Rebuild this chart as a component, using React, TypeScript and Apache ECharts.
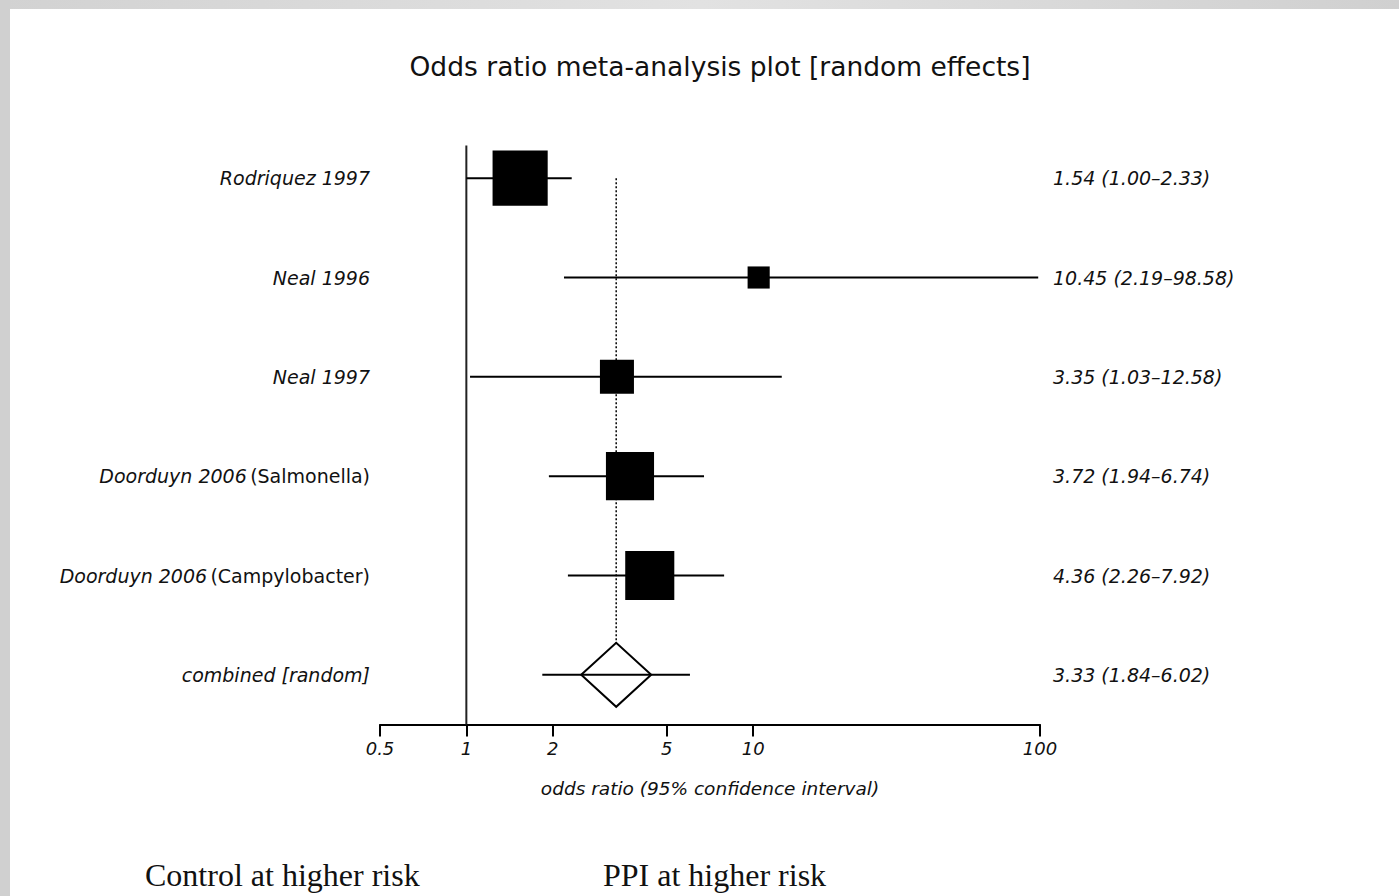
import { useEffect, useRef } from "react";
import * as echarts from "echarts";

// Forest plot data: odds ratios with 95% confidence intervals
const studyLabels = [
  "Rodriquez 1997",
  "Neal 1996",
  "Neal 1997",
  "Doorduyn 2006 (Salmonella)",
  "Doorduyn 2006 (Campylobacter)",
  "combined [random]",
];
const oddsRatio = [1.54, 10.45, 3.35, 3.72, 4.36, 3.33];
const ciLower = [1.0, 2.19, 1.03, 1.94, 2.26, 1.84];
const ciUpper = [2.33, 98.58, 12.58, 6.74, 7.92, 6.02];
// study weights (%); the pooled row is drawn as a diamond instead
const weightPct = [32.3, 5.2, 12.3, 24.6, 25.6, 0];
const pooledRow = 5;
const axisTickValues = [0.5, 1, 2, 5, 10, 100];
const nullEffect = 1;

const titleText = "Odds ratio meta-analysis plot [random effects]";
const axisTitle = "odds ratio (95% confidence interval)";
const leftNote = "Control at higher risk";
const rightNote = "PPI at higher risk";

const SANS = "DejaVu Sans";
const SERIF = "Liberation Serif";
const INK = "#111";

const fmt = (v: number) => v.toFixed(2);
const estimateLabels = oddsRatio.map(
  (v, i) => `${fmt(v)} (${fmt(ciLower[i])}–${fmt(ciUpper[i])})`
);

function studyLabelFormatter(name: string) {
  const k = name.indexOf(" (");
  if (k < 0) return `{it|${name}}`;
  return `{it|${name.slice(0, k)}} {up|${name.slice(k + 1)}}`;
}

export default function App() {
  const ref = useRef<HTMLDivElement>(null);

  useEffect(() => {
    if (!ref.current) return;
    const chart = echarts.init(ref.current, undefined, { renderer: "svg" });

    const rows = oddsRatio.map((v, i) => [v, i, ciLower[i], ciUpper[i], weightPct[i]]);

    const option: any = {
      animation: false,
      backgroundColor: "#ffffff",
      title: {
        text: titleText,
        left: 715,
        top: 48,
        textAlign: "center",
        textStyle: { fontFamily: SANS, fontSize: 26.5, fontWeight: "normal", color: INK },
      },
      grid: { left: 380, right: 359, top: 128.5, bottom: 171.5 },
      xAxis: {
        type: "log",
        logBase: 10,
        min: 0.5,
        max: 100,
        name: axisTitle,
        nameLocation: "middle",
        nameGap: 54,
        nameTextStyle: { fontFamily: SANS, fontStyle: "italic", fontSize: 18.5, color: INK },
        axisLine: { show: true, lineStyle: { color: "#000", width: 2 } },
        axisTick: {
          show: true,
          length: 12,
          lineStyle: { color: "#000", width: 2 },
          customValues: axisTickValues,
        },
        minorTick: { show: false },
        axisLabel: {
          customValues: axisTickValues,
          margin: 15,
          fontFamily: SANS,
          fontStyle: "italic",
          fontSize: 18,
          color: INK,
          formatter: (v: number) => String(v),
        },
        splitLine: { show: false },
      },
      yAxis: [
        {
          type: "category",
          data: studyLabels,
          inverse: true,
          axisLine: { show: false },
          axisTick: { show: false },
          splitLine: { show: false },
          axisLabel: {
            margin: 10,
            formatter: studyLabelFormatter,
            rich: {
              it: { fontFamily: SANS, fontStyle: "italic", fontSize: 19, color: INK },
              up: { fontFamily: SANS, fontSize: 19, color: INK },
            },
          },
        },
        {
          type: "category",
          data: estimateLabels,
          inverse: true,
          position: "right",
          axisLine: { show: false },
          axisTick: { show: false },
          splitLine: { show: false },
          axisLabel: {
            margin: 13,
            fontFamily: SANS,
            fontStyle: "italic",
            fontSize: 19,
            color: INK,
          },
        },
      ],
      series: [
        {
          // line of no effect (OR = 1)
          type: "custom",
          z: 1,
          data: [[nullEffect, 0]],
          encode: { x: 0, y: 1 },
          renderItem: (params: any, api: any) => {
            const [x, y0] = api.coord([api.value(0), 0]);
            const band = api.size([0, 1])[1];
            const bottom = params.coordSys.y + params.coordSys.height;
            return {
              type: "line",
              shape: { x1: x, y1: y0 - band * 0.33, x2: x, y2: bottom },
              style: { stroke: "#222", lineWidth: 2 },
            };
          },
        },
        {
          // pooled estimate reference
          type: "line",
          z: 1,
          symbol: "none",
          data: [
            [oddsRatio[pooledRow], 0],
            [oddsRatio[pooledRow], pooledRow],
          ],
          lineStyle: { color: "#000", width: 1.5, type: [2, 2] },
        },
        {
          type: "custom",
          z: 2,
          data: rows,
          encode: { x: 0, y: 1 },
          renderItem: (_params: any, api: any) => {
            const row = api.value(1);
            const [cx, cy] = api.coord([api.value(0), row]);
            const xl = api.coord([api.value(2), row])[0];
            const xh = api.coord([api.value(3), row])[0];
            const ci = {
              type: "line",
              shape: { x1: xl, y1: cy, x2: xh, y2: cy },
              style: { stroke: "#000", lineWidth: 2 },
            };
            if (row === pooledRow) {
              return {
                type: "group",
                children: [
                  {
                    type: "polygon",
                    shape: {
                      points: [
                        [cx - 35, cy],
                        [cx, cy - 32],
                        [cx + 35, cy],
                        [cx, cy + 32],
                      ],
                    },
                    style: { fill: "#fff", stroke: "#000", lineWidth: 2 },
                  },
                  ci,
                ],
              };
            }
            const s = Math.sqrt(api.value(4)) * 9.7;
            return {
              type: "group",
              children: [
                ci,
                {
                  type: "rect",
                  shape: { x: cx - s / 2, y: cy - s / 2, width: s, height: s },
                  style: { fill: "#000" },
                },
              ],
            };
          },
        },
      ],
      graphic: [
        {
          type: "rect",
          shape: { x: 0, y: 0, width: 1399, height: 9 },
          style: {
            fill: {
              type: "linear",
              x: 0,
              y: 0,
              x2: 1,
              y2: 0,
              colorStops: [
                { offset: 0, color: "#d2d2d2" },
                { offset: 0.5, color: "#e2e2e2" },
                { offset: 1, color: "#d0d0d0" },
              ],
            },
          },
          silent: true,
        },
        {
          type: "rect",
          shape: { x: 0, y: 0, width: 10, height: 896 },
          style: { fill: "#d0d0d0" },
          silent: true,
        },
        {
          type: "text",
          x: 145,
          y: 875,
          style: {
            text: leftNote,
            fontFamily: SERIF,
            fontSize: 32,
            fill: INK,
            verticalAlign: "middle",
          },
        },
        {
          type: "text",
          x: 603,
          y: 875,
          style: {
            text: rightNote,
            fontFamily: SERIF,
            fontSize: 32,
            fill: INK,
            verticalAlign: "middle",
          },
        },
      ],
    };

    chart.setOption(option);
    return () => chart.dispose();
  }, []);

  return (
    <div
      ref={ref}
      style={{ position: "absolute", left: 0, top: 0, width: 1399, height: 896 }}
    />
  );
}
